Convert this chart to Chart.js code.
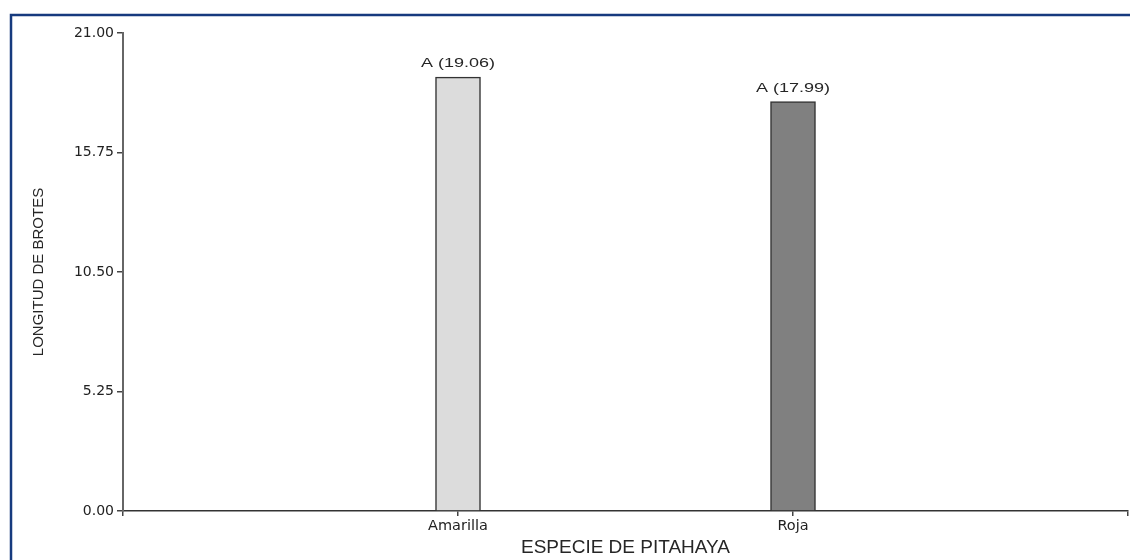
<!DOCTYPE html>
<html>
<head>
<meta charset="utf-8">
<script src="https://cdn.jsdelivr.net/npm/chart.js@4.4.1/dist/chart.umd.min.js"></script>
<style>
  html, body { margin: 0; padding: 0; background: #ffffff; }
  #wrap { width: 1130px; height: 560px; }
</style>
</head>
<body>
<div id="wrap"><canvas id="chart" width="1130" height="560"></canvas></div>
<script>
// Shoot length by pitahaya species
const categories = ['Amarilla', 'Roja'];
const means = [19.06, 17.99];
const groupLetters = ['A', 'A'];
const barColors = ['#dcdcdc', '#808080'];
const yTickValues = [0, 5.25, 10.5, 15.75, 21];

// empty slots on each side keep the two bars at one third and two thirds of the axis
const axisLabels = [''].concat(categories, ['']);
const axisData = [null].concat(means, [null]);
const axisColors = ['#ffffff'].concat(barColors, ['#ffffff']);

const framePlugin = {
  id: 'frame',
  beforeDraw(chart) {
    const ctx = chart.ctx;
    ctx.save();
    ctx.fillStyle = '#ffffff';
    ctx.fillRect(0, 0, chart.width, chart.height);
    ctx.strokeStyle = '#163a7e';
    ctx.lineWidth = 2.5;
    ctx.beginPath();
    ctx.moveTo(11, chart.height + 5);
    ctx.lineTo(11, 15);
    ctx.lineTo(chart.width + 5, 15);
    ctx.stroke();
    ctx.restore();
  }
};

const meanLabelPlugin = {
  id: 'meanLabels',
  afterDatasetsDraw(chart) {
    const ctx = chart.ctx;
    const meta = chart.getDatasetMeta(0);
    ctx.save();
    ctx.font = '12px "Liberation Sans", Arial, sans-serif';
    ctx.fillStyle = '#262626';
    ctx.textAlign = 'center';
    ctx.textBaseline = 'alphabetic';
    meta.data.forEach((bar, i) => {
      const v = axisData[i];
      if (v === null) return;
      const text = groupLetters[i - 1] + ' (' + v.toFixed(2) + ')';
      ctx.save();
      ctx.translate(bar.x, bar.y - 10);
      ctx.scale(1.5, 1);
      ctx.fillText(text, 0, 0);
      ctx.restore();
    });
    ctx.restore();
  }
};

new Chart(document.getElementById('chart'), {
  type: 'bar',
  data: {
    labels: axisLabels,
    datasets: [{
      data: axisData,
      backgroundColor: axisColors,
      borderColor: '#333333',
      borderWidth: 1.5,
      barThickness: 45
    }]
  },
  options: {
    responsive: false,
    animation: false,
    devicePixelRatio: 1,
    layout: { padding: { top: 33, right: 1, left: 0, bottom: 0 } },
    plugins: {
      legend: { display: false },
      tooltip: { enabled: false }
    },
    scales: {
      x: {
        type: 'category',
        offset: false,
        grid: { offset: false, drawOnChartArea: false, drawTicks: true, tickLength: 5, color: '#444444', lineWidth: 1.5 },
        border: { display: true, color: '#333333', width: 1.5 },
        ticks: {
          autoSkip: false,
          maxRotation: 0,
          padding: 2,
          color: '#222222',
          font: { family: '"DejaVu Sans", sans-serif', size: 14.5 }
        },
        title: {
          display: true,
          text: 'ESPECIE DE PITAHAYA',
          color: '#262626',
          font: { family: '"Liberation Sans", Arial, sans-serif', size: 19 },
          padding: { top: 0, bottom: 1 }
        },
        afterFit(scale) { scale.height = 49; }
      },
      y: {
        min: 0,
        max: 21,
        afterBuildTicks(scale) { scale.ticks = yTickValues.map(v => ({ value: v })); },
        grid: { drawOnChartArea: false, drawTicks: true, tickLength: 6, color: '#444444', lineWidth: 1.5 },
        border: { display: true, color: '#666666', width: 2 },
        ticks: {
          padding: 3,
          color: '#222222',
          font: { family: '"DejaVu Sans", sans-serif', size: 14 },
          callback: v => Number(v).toFixed(2)
        },
        title: {
          display: true,
          text: 'LONGITUD DE BROTES',
          color: '#262626',
          font: { family: '"Liberation Sans", Arial, sans-serif', size: 15 },
          padding: { top: 30, bottom: 0 }
        },
        afterFit(scale) { scale.width = 123; }
      }
    }
  },
  plugins: [framePlugin, meanLabelPlugin]
});
</script>
</body>
</html>
